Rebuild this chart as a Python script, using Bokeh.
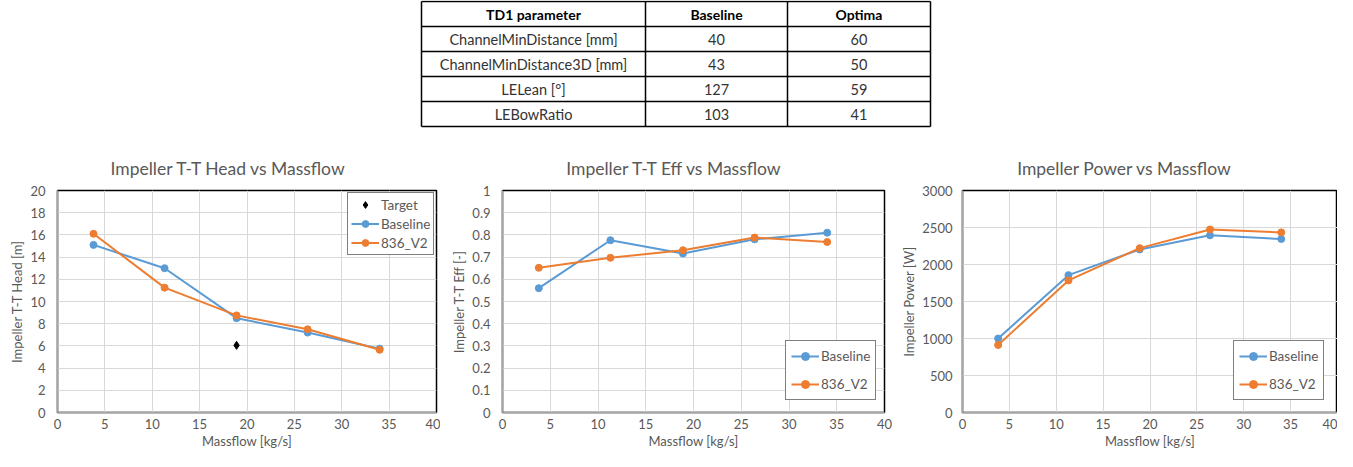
from bokeh.plotting import figure
from bokeh.layouts import column, row
from bokeh.models import Range1d, Legend, LegendItem, FixedTicker
from bokeh.core.properties import value
from bokeh.embed import file_html
from bokeh.resources import INLINE

# ---------------- data ----------------
massflow = [3.8, 11.3, 18.9, 26.4, 34.0]
head_baseline = [15.1, 13.0, 8.5, 7.2, 5.75]
head_v2 = [16.1, 11.25, 8.75, 7.5, 5.65]
target_massflow = [18.9]
target_head = [6.05]
eff_baseline = [0.56, 0.776, 0.716, 0.78, 0.81]
eff_v2 = [0.652, 0.697, 0.731, 0.788, 0.768]
power_baseline = [1000, 1856, 2203, 2394, 2345]
power_v2 = [912, 1785, 2221, 2474, 2434]

x_ticks = [0, 5, 10, 15, 20, 25, 30, 35, 40]
head_ticks = [0, 2, 4, 6, 8, 10, 12, 14, 16, 18, 20]
eff_ticks = [0, 0.1, 0.2, 0.3, 0.4, 0.5, 0.6, 0.7, 0.8, 0.9, 1]
power_ticks = [0, 500, 1000, 1500, 2000, 2500, 3000]

chart_titles = ["Impeller T-T Head vs Massflow", "Impeller T-T Eff vs Massflow",
                "Impeller Power vs Massflow"]

table_header = ["TD1 parameter", "Baseline", "Optima"]
table_params = ["ChannelMinDistance [mm]", "ChannelMinDistance3D [mm]", "LELean [°]", "LEBowRatio"]
table_baseline = [40, 43, 127, 103]
table_optima = [60, 50, 59, 41]

FONT = "Lato"
GREY = "#595959"
BLUE = "#5B9BD5"
ORANGE = "#ED7D31"

TOP_H = 180          # table + chart titles
CHART_H = 271
FRAME_TOP = 190      # page y of the plot frames' top
FRAME_H = 222

# ---------------- table + chart titles (one full-width header figure) ----------------
tbl = figure(width=1337, height=TOP_H, x_range=Range1d(0, 1337), y_range=Range1d(TOP_H, 0),
             x_axis_type=None, y_axis_type=None, output_backend="svg", toolbar_location=None,
             min_border=0, outline_line_color=None)
tbl.grid.visible = False
col_edges = [421, 645, 787, 930]
row_top, row_h = 1, 25
n_rows = len(table_params) + 1
row_edges = [row_top + i * row_h for i in range(n_rows + 1)]
tbl.segment(x0=[col_edges[0]] * len(row_edges), x1=[col_edges[-1]] * len(row_edges),
            y0=row_edges, y1=row_edges, line_color="black", line_width=1.5)
tbl.segment(x0=col_edges, x1=col_edges, y0=[row_edges[0]] * len(col_edges),
            y1=[row_edges[-1]] * len(col_edges), line_color="black", line_width=1.5)
col_centers = [(col_edges[i] + col_edges[i + 1]) / 2 for i in range(3)]
row_centers = [(row_edges[i] + row_edges[i + 1]) / 2 for i in range(n_rows)]
tbl.text(x=col_centers, y=[row_centers[0]] * 3, text=table_header,
         text_font=value(FONT), text_font_size="14px", text_font_style="bold",
         text_color="black", text_align="center", text_baseline="middle")
body_x, body_y, body_t = [], [], []
for i in range(len(table_params)):
    for j, v in enumerate([table_params[i], str(table_baseline[i]), str(table_optima[i])]):
        body_x.append(col_centers[j])
        body_y.append(row_centers[i + 1])
        body_t.append(v)
tbl.text(x=body_x, y=body_y, text=body_t, text_font=value(FONT), text_font_size="14.5px",
         text_color="#333333", text_align="center", text_baseline="middle")

# chart titles, centred on each chart area like the original
title_cx = [228, 674, 1124]
tbl.text(x=title_cx, y=[168] * 3, text=chart_titles, text_font=value(FONT),
         text_font_size="17.5px", text_color=GREY, text_align="center", text_baseline="middle")


# ---------------- charts ----------------
def make_chart(ylabel, yticks, left, plot_w, right, ylab_standoff=12):
    top = FRAME_TOP - TOP_H
    bottom = CHART_H - top - FRAME_H
    p = figure(width=left + plot_w + right, height=CHART_H, x_range=Range1d(0, 40),
               y_range=Range1d(yticks[0], yticks[-1]), output_backend="svg",
               toolbar_location=None, min_border_left=left, min_border_right=right,
               min_border_top=top, min_border_bottom=bottom)
    p.outline_line_color = "black"
    p.outline_line_width = 1.5
    p.outline_line_alpha = 1
    for ax, ticks in ((p.xaxis[0], x_ticks), (p.yaxis[0], yticks)):
        ax.ticker = FixedTicker(ticks=ticks)
        ax.major_label_overrides = {t: f"{t:g}" for t in ticks}
        ax.major_tick_line_color = None
        ax.minor_tick_line_color = None
        ax.major_tick_out = 0
        ax.major_tick_in = 0
        ax.axis_line_color = "#a6a6a6"
        ax.axis_line_width = 1.5
        ax.major_label_text_font = FONT
        ax.major_label_text_font_size = "13px"
        ax.major_label_text_color = GREY
        ax.axis_label_text_font = FONT
        ax.axis_label_text_font_size = "13px"
        ax.axis_label_text_font_style = "normal"
        ax.axis_label_text_color = GREY
    p.xaxis.axis_label = "Massflow [kg/s]"
    p.xaxis.major_label_standoff = 6
    p.xaxis.axis_label_standoff = 1
    p.yaxis.axis_label = ylabel
    p.yaxis.major_label_standoff = ylab_standoff
    p.yaxis.axis_label_standoff = 2
    p.grid.grid_line_color = "#d9d9d9"
    p.grid.grid_line_width = 1
    return p


def add_series(p, ys, color):
    l = p.line(massflow, ys, line_color=color, line_width=2)
    c = p.scatter(massflow, ys, marker="circle", size=7, fill_color=color, line_color=color)
    return [l, c]


def style_legend(lg, pad, spacing, h):
    lg.border_line_color = "black"
    lg.border_line_width = 1.5
    lg.background_fill_color = "white"
    lg.background_fill_alpha = 1
    lg.label_text_font = FONT
    lg.label_text_font_size = "13.5px"
    lg.label_text_color = GREY
    lg.glyph_width = 28
    lg.glyph_height = h
    lg.label_height = h
    lg.label_standoff = 2
    lg.padding = pad
    lg.spacing = spacing
    lg.margin = 0


# Chart 1
p1 = make_chart("Impeller T-T Head [m]", head_ticks, 57, 379, 4)
t = p1.scatter(target_massflow, target_head, marker="diamond", size=8, fill_color="black", line_color="black")
b1 = add_series(p1, head_baseline, BLUE)
v1 = add_series(p1, head_v2, ORANGE)
lg1 = Legend(items=[LegendItem(label="Target", renderers=[t]),
                    LegendItem(label="Baseline", renderers=b1),
                    LegendItem(label="836_V2", renderers=v1)], location=(290, 157))
style_legend(lg1, 3, 2, 17)
p1.add_layout(lg1)

# Chart 2
p2 = make_chart("Impeller T-T Eff [-]", eff_ticks, 62, 382, 14)
b2 = add_series(p2, eff_baseline, BLUE)
v2 = add_series(p2, eff_v2, ORANGE)
lg2 = Legend(items=[LegendItem(label="Baseline", renderers=b2),
                    LegendItem(label="836_V2", renderers=v2)], location=(283, 12))
style_legend(lg2, 5, 8, 20)
p2.add_layout(lg2)

# Chart 3
p3 = make_chart("Impeller Power [W]", power_ticks, 61, 378, 0, ylab_standoff=10)
b3 = add_series(p3, power_baseline, BLUE)
v3 = add_series(p3, power_v2, ORANGE)
lg3 = Legend(items=[LegendItem(label="Baseline", renderers=b3),
                    LegendItem(label="836_V2", renderers=v3)], location=(271, 12))
style_legend(lg3, 5, 8, 20)
p3.add_layout(lg3)

layout = column(tbl, row(p1, p2, p3, spacing=0), spacing=0)
open("out.html", "w").write(file_html(layout, INLINE))
